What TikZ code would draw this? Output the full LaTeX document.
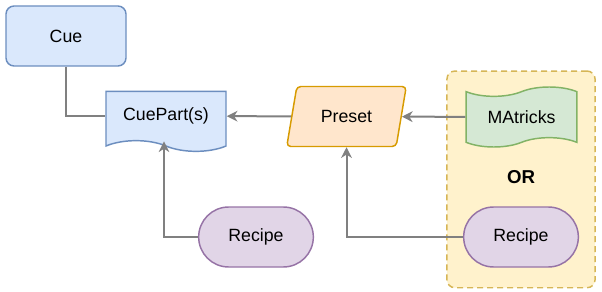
\documentclass[tikz,border=0pt]{standalone}
\usepackage{fontspec}
\setmainfont{Liberation Sans}
\usepackage{xcolor}
\usetikzlibrary{
  arrows.meta, positioning, fit, backgrounds,
  shapes.geometric, shapes.misc, shapes.symbols
}
\definecolor{blueA}{HTML}{6C8EBF}
\definecolor{blueB}{HTML}{DAE8FC}
\definecolor{orangeA}{HTML}{D79B00}
\definecolor{orangeB}{HTML}{FFE6CC}
\definecolor{greenA}{HTML}{82B366}
\definecolor{greenB}{HTML}{D5E8D4}
\definecolor{violetA}{HTML}{9673A6}
\definecolor{violetB}{HTML}{E1D5E7}
\definecolor{yellowA}{HTML}{D6B656}
\definecolor{yellowB}{HTML}{FFF2CC}
\definecolor{greyA}{HTML}{808080}
\tikzset{
  base/.style={
    line width=1.1pt, align=center, inner sep=2pt,
    minimum width=90pt, minimum height=45pt,
    font=\fontsize{13.3}{15}\selectfont
  },
  cuebox/.style={base, draw=blueA, fill=blueB, rounded corners=6pt},
  docbox/.style={
    base, draw=blueA, fill=blueB, tape, tape bend top=none,
    tape bend bottom=out and in, tape bend height=8pt
  },
  presetbox/.style={
    base, draw=orangeA, fill=orangeB, trapezium, trapezium stretches=true,
    trapezium left angle=72, trapezium right angle=108, rounded corners=3pt
  },
  tapebox/.style={
    base, draw=greenA, fill=greenB, tape, minimum width=83pt,
    tape bend top=in and out, tape bend bottom=in and out, tape bend height=7pt
  },
  recipebox/.style={base, draw=violetA, fill=violetB, rounded rectangle},
  orbox/.style={
    draw=yellowA, fill=yellowB, rounded corners=6pt, dashed,
    dash pattern=on 4.5pt off 3pt, line width=1.1pt
  },
  link/.style={draw=greyA, line width=1.5pt},
  arrow/.style={link, -{Stealth[length=8pt, width=8pt, inset=2.5pt]}}
}

\begin{document}
\begin{tikzpicture}[x=0.75pt, y=-0.75pt]
  \useasboundingbox (0,0) rectangle (602,292);
  \node[cuebox] (cue) at (66,36) {Cue};
  \node[docbox] (cueparts) at (166,116) {CuePart(s)};
  \node[presetbox] (preset) at (346.5,116.5) {Preset};
  \node[tapebox] (matricks) at (521.5,117) {MAtricks};
  \node[recipebox] (recipeA) at (256,237) {Recipe};
  \node[recipebox] (recipeB) at (521,237) {Recipe};
  \node[font=\fontsize{14}{16}\selectfont\bfseries] (ortext) at (521,177) {OR};
  \begin{scope}[on background layer]
    \node[orbox, inner xsep=12pt, inner ysep=15pt, fit=(matricks)(recipeB)] (alt) {};
  \end{scope}
  \draw[link] (cue.south) |- (cueparts.west);
  \draw[arrow] (preset) -- (cueparts);
  \draw[arrow] (matricks) -- (preset);
  \draw[arrow] (recipeB.west) -| (preset.south);
  \draw[arrow] (recipeA.west) -| ([xshift=-1.5pt]cueparts.south);
\end{tikzpicture}
\end{document}
